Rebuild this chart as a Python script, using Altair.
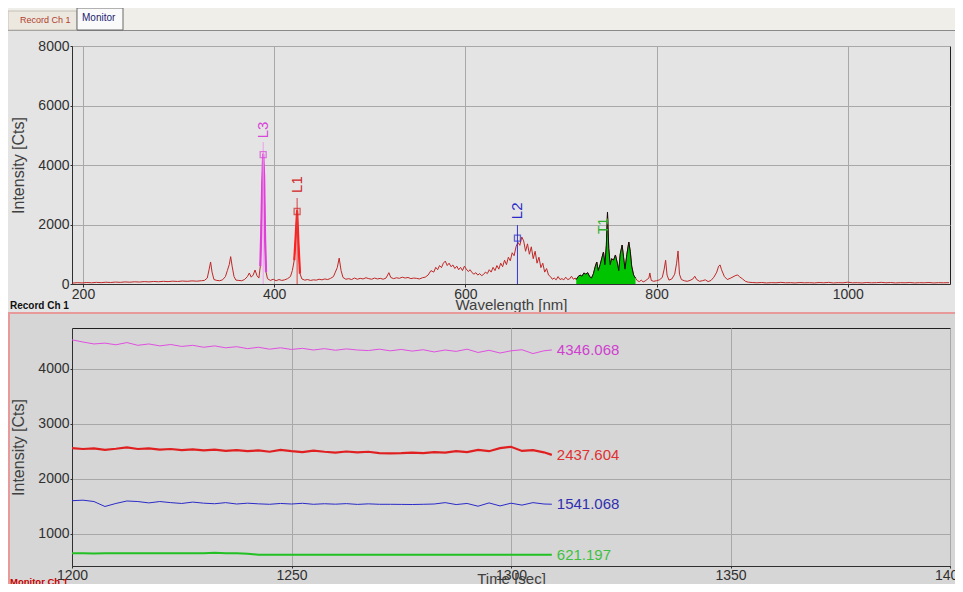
import altair as alt
import pandas as pd

FONT = "Liberation Sans"

# ---------------- spectrum (Record Ch 1) ----------------
WL = [189, 194, 199, 204, 209, 214, 219, 224, 229, 234, 239, 244, 249, 254, 259, 264, 269, 274, 279, 284,
      289, 294, 299, 304, 309, 314, 319, 324, 327, 330, 332, 333.5, 335, 337, 340, 343, 346, 349, 351, 353,
      354.5, 356, 358, 360, 363, 366, 369, 372, 374, 376, 378, 380, 382, 384, 385.5, 386.5, 387.5, 388.5, 389.5, 390.5,
      391.5, 393, 396, 399, 402, 405, 408, 411, 414, 417, 419, 421, 422.5, 424, 425.5, 427, 429, 432, 435, 438,
      441, 444, 447, 450, 453, 456, 459, 462, 464, 466, 468, 470, 472, 475, 478, 481, 484, 487, 490, 493,
      496, 499, 502, 505, 508, 511, 514, 517, 520, 522, 525, 528, 531, 534, 537, 540, 543, 546, 549, 552,
      555, 558, 561, 564, 567, 569, 571, 573, 575, 577, 579, 581, 583, 585, 587, 589, 591, 593, 595, 597,
      599, 601, 603, 605, 607, 609, 611, 613, 615, 617, 619, 621, 623, 625, 627, 629, 631, 633, 635, 637,
      639, 641, 643, 645, 647, 649, 651, 653, 655, 657, 659, 661, 663, 665, 667, 669, 671, 673, 675, 677,
      679, 681, 683, 685, 687, 689, 691, 693, 695, 697, 699, 701, 703, 705, 707, 709, 711, 713, 715, 716,
      718, 720, 722, 724, 726, 728, 730, 732, 734, 736, 737.5, 739, 741, 743, 744.5, 746, 747.5, 748.7, 750, 751.5,
      753, 755, 757, 759, 760.5, 762, 764, 765.5, 767, 769, 771, 772.5, 774, 776, 778, 780, 782, 784, 786, 788,
      790, 792, 793, 794.5, 797, 800, 803, 806, 808, 809.5, 811, 813, 816, 819, 821, 822.5, 824, 826, 829, 832,
      835, 838, 840, 842, 845, 848, 851, 854, 857, 860, 863, 865, 866.5, 868, 871, 874, 877, 880, 883, 885,
      887, 890, 893, 896, 900, 905, 910, 915, 920, 925, 930, 935, 940, 945, 950, 955, 960, 965, 970, 975,
      980, 985, 990, 995, 1000, 1005, 1010, 1015, 1020, 1025, 1030, 1035, 1040, 1045, 1050, 1055, 1060, 1065, 1070, 1075,
      1080, 1085, 1090, 1095, 1100, 1106]
CT = [30, 45, 35, 50, 40, 55, 45, 60, 50, 65, 55, 70, 60, 75, 65, 80, 70, 85, 75, 90,
      80, 95, 85, 100, 90, 105, 95, 110, 120, 200, 500, 740, 400, 150, 120, 110, 140, 250, 450, 650,
      920, 600, 250, 130, 120, 110, 150, 250, 370, 230, 300, 470, 280, 200, 600, 1800, 3400, 4380, 3600, 1500,
      400, 180, 120, 160, 110, 150, 120, 140, 180, 250, 450, 800, 1600, 2480, 1300, 350, 170, 130, 150, 120,
      140, 130, 160, 140, 170, 150, 190, 250, 400, 550, 870, 450, 220, 160, 180, 150, 200, 160, 190, 170,
      210, 180, 160, 200, 170, 190, 160, 200, 380, 220, 180, 210, 190, 230, 200, 220, 180, 200, 190, 170,
      210, 230, 300, 450, 400, 560, 480, 620, 550, 700, 770, 620, 700, 580, 640, 520, 600, 480, 560, 450,
      600, 500, 420, 480, 380, 330, 380, 300, 350, 280, 320, 400, 350, 480, 400, 560, 450, 620, 500, 700,
      580, 800, 650, 900, 780, 1050, 950, 1250, 1400, 1300, 1580, 1450, 1100, 1350, 1000, 1250, 850, 1100, 700, 900,
      550, 700, 400, 520, 300, 250, 160, 200, 140, 250, 150, 180, 140, 230, 150, 170, 260, 160, 200, 150,
      250, 300, 260, 370, 330, 380, 250, 200, 350, 600, 740, 450, 650, 900, 1075, 650, 1300, 2420, 1200, 650,
      850, 800, 975, 700, 450, 1000, 1310, 900, 500, 1000, 1410, 1100, 600, 300, 200, 110, 80, 130, 70, 100,
      150, 200, 370, 120, 90, 110, 140, 220, 500, 800, 300, 130, 170, 330, 700, 1110, 330, 150, 110, 90,
      120, 170, 260, 150, 90, 110, 140, 80, 120, 230, 400, 600, 640, 480, 250, 150, 190, 240, 290, 300,
      240, 170, 90, 60, 50, 40, 50, 35, 45, 40, 55, 40, 45, 35, 50, 40, 45, 35, 50, 40,
      55, 35, 45, 40, 60, 40, 45, 35, 50, 40, 45, 55, 40, 50, 35, 45, 40, 50, 35, 45,
      40, 50, 35, 45, 40, 45]
assert len(WL) == len(CT), (len(WL), len(CT))

MARK_NAMES = ["L3", "L1", "L2"]
MARK_WL = [388.5, 424.0, 654.5]
MARK_VAL = [4346.068, 2437.604, 1541.068]
MARK_TOP = [4770, 2890, 1980]
MARK_LABEL_Y = [4900, 3060, 2180]
MARK_COLORS = ["#d848d8", "#d02828", "#2a2ac8"]
RULE_COLORS = ["#ee9cee", "#d84040", "#3434d8"]

T1_RANGE = [716, 778]
T1_WL = [745]
T1_LABEL_Y = [1680]

# ---------------- monitor (Monitor Ch 1) ----------------
TIMES = [1200.0, 1202.5, 1205.0, 1207.5, 1210.0, 1212.5, 1215.0, 1217.5, 1220.0, 1222.5,
         1225.0, 1227.5, 1230.0, 1232.5, 1235.0, 1237.5, 1240.0, 1242.5, 1245.0, 1247.5,
         1250.0, 1252.5, 1255.0, 1257.5, 1260.0, 1262.5, 1265.0, 1267.5, 1270.0, 1272.5,
         1275.0, 1277.5, 1280.0, 1282.5, 1285.0, 1287.5, 1290.0, 1292.5, 1295.0, 1297.5,
         1300.0, 1302.5, 1305.0, 1307.5, 1309.3]
MON_L3 = [4530, 4490, 4455, 4470, 4440, 4480, 4430, 4455, 4420, 4445, 4410, 4430, 4395, 4420, 4385,
          4405, 4370, 4395, 4360, 4385, 4355, 4375, 4345, 4370, 4340, 4365, 4345, 4335, 4360, 4330,
          4355, 4325, 4350, 4310, 4345, 4320, 4360, 4300, 4340, 4290, 4330, 4350, 4280, 4330, 4346.068]
MON_L1 = [2560, 2545, 2555, 2530, 2550, 2575, 2545, 2555, 2535, 2545, 2525, 2540, 2520, 2535, 2510,
          2525, 2505, 2520, 2495, 2530, 2505, 2490, 2515, 2495, 2480, 2500, 2485, 2495, 2470, 2465,
          2470, 2480, 2470, 2490, 2480, 2505, 2490, 2530, 2505, 2560, 2585, 2510, 2525, 2485, 2437.604]
MON_L2 = [1605, 1615, 1590, 1500, 1555, 1600, 1590, 1565, 1590, 1570, 1555, 1580, 1560, 1550, 1570,
          1545, 1560, 1548, 1540, 1555, 1545, 1558, 1540, 1550, 1542, 1552, 1538, 1548, 1540, 1540,
          1538, 1536, 1540, 1545, 1570, 1535, 1555, 1505, 1565, 1510, 1560, 1525, 1570, 1545, 1541.068]
MON_T1 = [648, 650, 647, 650, 652, 649, 648, 650, 651, 648, 650, 649, 648, 660, 652,
          649, 640, 622, 621, 621, 621, 621, 621, 621, 621, 621, 621, 621, 621, 621,
          621, 621, 621, 621, 621, 621, 621, 621, 621, 621, 621, 621, 621, 621, 621.197]
SERIES = ["L3", "L1", "L2", "T1"]
END_LABELS = ["4346.068", "2437.604", "1541.068", "621.197"]
LINE_COLORS = ["#e050e0", "#e02020", "#2a2ac8", "#22c022"]
LABEL_COLORS = ["#d040d0", "#e03030", "#3030b0", "#40c040"]
LINE_WIDTHS = [1, 2.2, 1, 2]

W, H = 878, 238

spec = pd.DataFrame({"wl": WL, "ct": CT})
marks = pd.DataFrame({"name": MARK_NAMES, "wl": MARK_WL, "val": MARK_VAL,
                      "top": MARK_TOP, "ly": MARK_LABEL_Y,
                      "color": MARK_COLORS, "rcolor": RULE_COLORS})
t1 = pd.DataFrame({"name": ["T1"], "wl": T1_WL, "ly": T1_LABEL_Y})

one = pd.DataFrame({"k": [0]})


def rect(x, x2, y, y2, fill, stroke=None, sw=1):
    kw = dict(fill=fill)
    if stroke:
        kw.update(stroke=stroke, strokeWidth=sw)
    return alt.Chart(one).mark_rect(**kw).encode(
        x=alt.value(x), x2=alt.value(x2), y=alt.value(y), y2=alt.value(y2))


def hline(x, x2, y, color, sw=1):
    return alt.Chart(one).mark_rule(color=color, strokeWidth=sw).encode(
        x=alt.value(x), x2=alt.value(x2), y=alt.value(y))


def label(text, x, y, color, size, weight="normal"):
    return alt.Chart(one).mark_text(text=text, align="left", baseline="middle", color=color,
                                    fontSize=size, fontWeight=weight, font=FONT).encode(
        x=alt.value(x), y=alt.value(y))


xs_top = alt.Scale(domain=[188.5, 1107], nice=False, zero=False)
ys_top = alt.Scale(domain=[0, 8000], nice=False)
x_top = alt.X("wl:Q", scale=xs_top, axis=alt.Axis(
    values=[200, 400, 600, 800, 1000], title="Wavelength [nm]", tickSize=3, labelPadding=0,
    titleY=20, titleBaseline="middle", labelFlush=False, format="d"))
y_top = alt.Y("ct:Q", scale=ys_top, axis=alt.Axis(
    values=[0, 2000, 4000, 6000, 8000], title="Intensity [Cts]", tickSize=2, labelPadding=1,
    titleX=-54, titleY=H / 2, titleAngle=270, titleAlign="center", titleBaseline="middle",
    titleFontSize=16, format="d"))

colr = alt.Color("color:N", scale=None)

spec_line = alt.Chart(spec).mark_line(color="#c02828", strokeWidth=1).encode(x=x_top, y=y_top)
hl_L3 = alt.Chart(spec).transform_filter(alt.FieldRangePredicate(field="wl", range=[385.5, 391.5])) \
    .mark_line(color="#e040d8", strokeWidth=2.2).encode(x="wl:Q", y="ct:Q")
hl_L1 = alt.Chart(spec).transform_filter(alt.FieldRangePredicate(field="wl", range=[421, 427])) \
    .mark_line(color="#ff2020", strokeWidth=2.2).encode(x="wl:Q", y="ct:Q")
t1_area = alt.Chart(spec).transform_filter(alt.FieldRangePredicate(field="wl", range=T1_RANGE)) \
    .mark_area(color="#00c400", opacity=1).encode(x="wl:Q", y="ct:Q")
t1_line = alt.Chart(spec).transform_filter(alt.FieldRangePredicate(field="wl", range=T1_RANGE)) \
    .mark_line(color="#101010", strokeWidth=1).encode(x="wl:Q", y="ct:Q")
t1_text = alt.Chart(t1).mark_text(angle=270, align="left", baseline="middle", fontSize=14,
                                  color="#30b030", font=FONT).encode(x="wl:Q", y="ly:Q", text="name:N")
rules = alt.Chart(marks).mark_rule(strokeWidth=1).encode(
    x="wl:Q", y="top:Q", y2=alt.datum(0), color=alt.Color("rcolor:N", scale=None))
squares = alt.Chart(marks).mark_point(shape="square", filled=False, size=36, strokeWidth=1.3).encode(
    x="wl:Q", y="val:Q", color=colr)
mtext = alt.Chart(marks).mark_text(angle=270, align="left", baseline="middle", fontSize=15,
                                   font=FONT).encode(x="wl:Q", y="ly:Q", text="name:N", color=colr)

# chart-local pixel coordinates (top plot origin is 64,38 inside the svg)
top_deco = [
    rect(-63, 884, 267, 540, "#d6d6d6", "#e89a9a", 2),
    rect(-64, 884, -38, -16, "#efeee9"),
    hline(-64, 884, -15.5, "#8a8a8a"),
    rect(-64, 5, -35, -16, "#ece7df", "#c4c0b8", 1),
    rect(5, 51, -38, -16, "#fafafa", "#6a6a6a", 1),
    label("Record Ch 1", -52, -26, "#b0402c", 9),
    label("Monitor", 10, -28, "#1c1c70", 10),
    label("Record Ch 1", -62, 260, "#101010", 10, "bold"),
]

top = alt.layer(*top_deco, spec_line, hl_L3, hl_L1, t1_area, t1_line, rules, squares, mtext, t1_text) \
    .properties(width=W, height=H,
                view=alt.ViewBackground(fill="#e4e4e4", stroke="#202020", strokeWidth=1))

# ---------------- bottom ----------------
mon = pd.DataFrame({
    "time": TIMES * 4,
    "value": MON_L3 + MON_L1 + MON_L2 + MON_T1,
    "series": [s for s in SERIES for _ in TIMES],
    "color": [c for c in LINE_COLORS for _ in TIMES],
    "width": [w for w in LINE_WIDTHS for _ in TIMES],
})
last = pd.DataFrame({
    "series": SERIES,
    "time": [TIMES[-1]] * 4,
    "value": [MON_L3[-1], MON_L1[-1], MON_L2[-1], MON_T1[-1]],
    "label": END_LABELS,
    "color": LABEL_COLORS,
})
x_bot = alt.X("time:Q", scale=alt.Scale(domain=[1200, 1400], nice=False, zero=False), axis=alt.Axis(
    values=[1200, 1250, 1300, 1350, 1400], title="Time [sec]", tickSize=2, labelPadding=0,
    titleY=12, titleBaseline="middle", labelFlush=False, format="d"))
y_bot = alt.Y("value:Q", scale=alt.Scale(domain=[418, 4745], nice=False, zero=False), axis=alt.Axis(
    values=[1000, 2000, 3000, 4000], title="Intensity [Cts]", tickSize=2, labelPadding=1,
    titleX=-54, titleY=H / 2, titleAngle=270, titleAlign="center", titleBaseline="middle",
    titleFontSize=16, format="d"))

mon_lines = alt.Chart(mon).mark_line().encode(
    x=x_bot, y=y_bot, color=colr, detail="series:N",
    strokeWidth=alt.StrokeWidth("width:Q", scale=None))
mon_text = alt.Chart(last).mark_text(align="left", baseline="middle", dx=5, fontSize=15, font=FONT).encode(
    x="time:Q", y="value:Q", text="label:N", color=colr)

bottom = alt.layer(mon_lines, mon_text, label("Monitor Ch 1", -62, 254, "#c80000", 9.5, "bold")) \
    .properties(width=W, height=H,
                view=alt.ViewBackground(fill="#d6d6d6", stroke="#202020", strokeWidth=1))

# svg = 64 + 878 + 5 = 947 wide, 38 + 538 = 576 tall (fits the page without overflow)
chart = alt.vconcat(top, bottom, spacing=44, bounds="flush").properties(
    padding={"left": 64, "top": 38, "right": 5, "bottom": 538},
    autosize=alt.AutoSizeParams(type="none"),
    background="#e4e4e4"
).configure_axis(
    labelFont=FONT, titleFont=FONT, labelFontSize=14, titleFontSize=15,
    labelColor="#303030", titleColor="#404040", titleFontWeight="normal",
    domainColor="#303030", tickColor="#303030", gridColor="#a8a8a8", gridWidth=1, grid=True
).configure_text(font=FONT)

chart.save("out.html", embed_options={"renderer": "svg", "actions": False})
